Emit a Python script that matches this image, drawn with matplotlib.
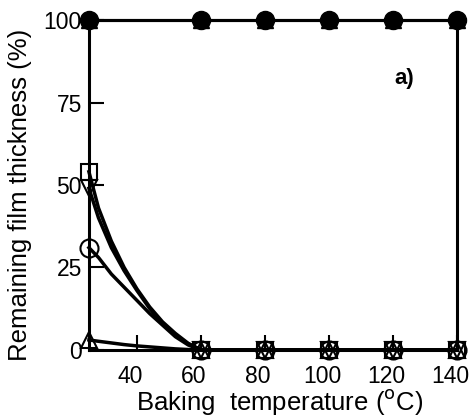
import matplotlib
matplotlib.use("Agg")
import matplotlib.pyplot as plt
import matplotlib.transforms as mtransforms

plt.rcParams['font.family'] = ['Liberation Sans', 'DejaVu Sans']

# baking temperatures (deg C); curve points between 25 and 60
temps = [25, 28, 32, 36, 40, 44, 48, 52, 56, 60, 80, 100, 120, 140]
marked = [0, 9, 10, 11, 12, 13]

# remaining thickness (%) of the samples that dissolve (open symbols)
square_open = [54, 43, 33, 25, 18.5, 13, 8.5, 5, 2, 0, 0, 0, 0, 0]
downtri_open = [49, 40, 31, 24, 18, 12.5, 8, 4.5, 1.8, 0, 0, 0, 0, 0]
circle_open = [31, 28, 23, 19, 15, 11, 7.5, 4, 1.5, 0, 0, 0, 0, 0]
uptri_open = [3, 2.6, 2.1, 1.6, 1.2, 0.9, 0.6, 0.3, 0.1, 0, 0, 0, 0, 0]

# samples that keep full thickness (filled symbols)
full_temps = [25, 60, 80, 100, 120, 140]
full_thick = [100, 100, 100, 100, 100, 100]

fig = plt.figure(figsize=(4.73, 4.19), dpi=100)
ax = fig.add_axes([0.188, 0.165, 0.778, 0.787])

for mk, ms in [('^', 12), ('o', 13)]:
    ax.plot(full_temps, full_thick, color='black', lw=2.2, marker=mk,
            markersize=ms, mfc='black', mec='black', clip_on=False, zorder=5)

open_series = [(square_open, 's', 11), (downtri_open, 'v', 12),
               (circle_open, 'o', 13), (uptri_open, '^', 12)]
for vals, mk, ms in open_series:
    ax.plot(temps, vals, color='black', lw=2.5, marker=mk, markersize=ms,
            markevery=marked, mfc='none', mec='black', mew=1.5,
            clip_on=False, zorder=4)

ax.set_xlim(25, 140)
ax.set_ylim(0, 100)
ax.set_xticks([40, 60, 80, 100, 120, 140])
ax.set_yticks([0, 25, 50, 75, 100])
ax.tick_params(direction='in', length=11, width=1.5, labelsize=16.5)
ax.tick_params(axis='x', pad=11)
ax.tick_params(axis='y', pad=5)
for s in ax.spines.values():
    s.set_linewidth(2.2)

# x tick labels sit a little left of their ticks in the original
shift = mtransforms.ScaledTranslation(-7 / 100, 0, fig.dpi_scale_trans)
for lbl in ax.get_xticklabels():
    lbl.set_transform(lbl.get_transform() + shift)

ax.set_xlabel('Baking  temperature ($^{\\rm o}$C)', fontsize=18.5)
ax.xaxis.set_label_coords(0.519, -0.112)
ax.set_ylabel('Remaining film thickness (%)', fontsize=18.5)
ax.yaxis.set_label_coords(-0.155, 0.47)
ax.text(0.856, 0.824, 'a)', transform=ax.transAxes, fontsize=16,
        fontweight='bold', ha='center', va='center')

fig.savefig('out.png', dpi=100)
